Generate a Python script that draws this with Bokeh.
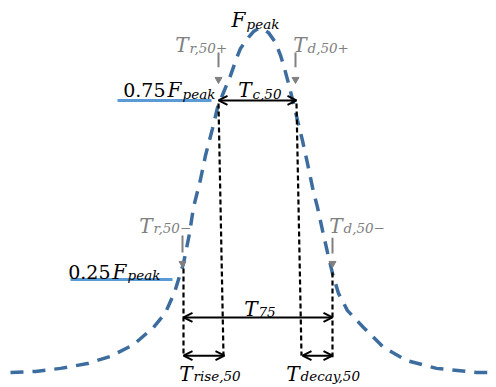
from bokeh.plotting import figure
from bokeh.models import Range1d, ColumnDataSource, Arrow, OpenHead
from bokeh.embed import file_html
from bokeh.resources import INLINE
from bokeh.core.properties import value

# ---- fluorescence transient (time, normalised F) ----
t = [10, 35, 60, 87, 110, 133, 153, 165, 174, 183, 189, 193, 200, 205, 212, 217,
     223, 230, 236, 240, 248, 253, 258, 263, 268, 275, 280, 284, 288, 293, 297,
     302, 307, 312, 317, 322, 327, 332, 338, 347, 363, 383, 406, 436, 476, 496]
F = [0.000, 0.003, 0.012, 0.026, 0.047, 0.081, 0.131, 0.174, 0.233, 0.317, 0.404,
     0.480, 0.561, 0.631, 0.709, 0.770, 0.814, 0.863, 0.913, 0.942, 0.974, 0.991,
     1.000, 0.997, 0.988, 0.959, 0.922, 0.884, 0.840, 0.782, 0.733, 0.674, 0.608,
     0.538, 0.480, 0.413, 0.349, 0.288, 0.230, 0.180, 0.131, 0.073, 0.035, 0.012,
     0.000, 0.000]

# ---- threshold levels (0.75 F_peak, 0.25 F_peak as drawn) ----
level_F = [0.791, 0.270]
level_t0 = [117, 70]
level_t1 = [211, 172]

# ---- crossing-time markers (dashed verticals) ----
cross_t0 = [218, 296, 183, 332]
cross_F0 = [0.782, 0.782, 0.302, 0.291]
cross_t1 = [223, 301, 183, 332]
cross_F1 = [0.049, 0.049, 0.047, 0.044]

# ---- duration arrows: T_c,50 ; T_75 ; T_rise,50 ; T_decay,50 ----
dur_t0 = [218, 183, 183, 302]
dur_t1 = [296, 332, 224, 332]
dur_F = [0.791, 0.160, 0.049, 0.049]

# ---- grey pointer arrows: T_r,50+ ; T_d,50+ ; T_r,50- ; T_d,50- ----
ptr_t = [218, 295, 182, 332]
ptr_top = [0.930, 0.930, 0.398, 0.392]
ptr_bot = [0.887, 0.887, 0.349, 0.346]
ptr_head = [0.852, 0.852, 0.317, 0.317]

# ---- labels ----
lab_main = ["F", "T", "T", "F", "T", "T", "T", "F", "T", "T", "T"]
lab_sub = ["peak", "r,50+", "d,50+", "peak", "c,50", "r,50\u2212", "d,50\u2212",
           "peak", "75", "rise,50", "decay,50"]
lab_prefix = ["", "", "", "0.75", "", "", "", "0.25", "", "", ""]
lab_t = [246, 189, 307, 182, 252, 153, 343, 127, 258, 193, 300]
lab_F = [1.026, 0.951, 0.951, 0.820, 0.820, 0.427, 0.427, 0.291, 0.186, -0.003, -0.003]
lab_Fsub = [1.014, 0.942, 0.942, 0.811, 0.811, 0.419, 0.419, 0.282, 0.177, -0.009, -0.009]
lab_color = ["black", "#808080", "#808080", "black", "black", "#808080", "#808080",
             "black", "black", "black", "black"]

p = figure(width=496, height=387, x_range=Range1d(0, 496), y_range=Range1d(-0.0436, 1.0814),
           output_backend="svg", toolbar_location=None, min_border=0,
           x_axis_location=None, y_axis_location=None)
p.grid.visible = False
p.outline_line_color = None
p.background_fill_color = "white"
p.border_fill_color = "white"

# threshold lines
p.segment(x0=level_t0, y0=level_F, x1=level_t1, y1=level_F, line_color="#5b9bd5", line_width=3)

# curve
p.line(t, F, line_color="#3d6d9e", line_width=3.5, line_dash="13 9")

# dashed verticals
p.segment(x0=cross_t0, y0=cross_F0, x1=cross_t1, y1=cross_F1, line_color="black",
          line_width=2.2, line_dash="5 3")

# duration arrows
dsrc = ColumnDataSource(dict(x0=dur_t0, x1=dur_t1, y=dur_F))
p.add_layout(Arrow(source=dsrc, x_start="x0", y_start="y", x_end="x1", y_end="y",
                   line_color="black", line_width=2,
                   start=OpenHead(size=9, line_width=2, line_color="black"),
                   end=OpenHead(size=9, line_width=2, line_color="black")))

# grey pointers
p.segment(x0=ptr_t, y0=ptr_top, x1=ptr_t, y1=ptr_bot, line_color="#808080", line_width=2)
p.scatter(ptr_t, ptr_head, marker="inverted_triangle", size=7, fill_color="#808080",
          line_color="#808080")

# labels
main_src = ColumnDataSource(dict(x=lab_t, y=lab_F, text=lab_main, c=lab_color))
sub_src = ColumnDataSource(dict(x=lab_t, y=lab_Fsub, text=lab_sub, c=lab_color))
pre_idx = [i for i, s in enumerate(lab_prefix) if s]
pre_src = ColumnDataSource(dict(x=[lab_t[i] - 17 for i in pre_idx],
                                y=[lab_F[i] for i in pre_idx],
                                text=[lab_prefix[i] for i in pre_idx],
                                c=[lab_color[i] for i in pre_idx]))
p.text(x="x", y="y", text="text", source=main_src, text_color="c",
       text_font=value("DejaVu Serif"), text_font_style="italic", text_font_size="20px",
       text_align="right", text_baseline="alphabetic", x_offset=-1)
p.text(x="x", y="y", text="text", source=sub_src, text_color="c",
       text_font=value("DejaVu Serif"), text_font_style="italic", text_font_size="13.5px",
       text_align="left", text_baseline="alphabetic")
p.text(x="x", y="y", text="text", source=pre_src, text_color="c",
       text_font=value("DejaVu Serif"), text_font_size="19px",
       text_align="right", text_baseline="alphabetic")

open("out.html", "w").write(file_html(p, INLINE))
